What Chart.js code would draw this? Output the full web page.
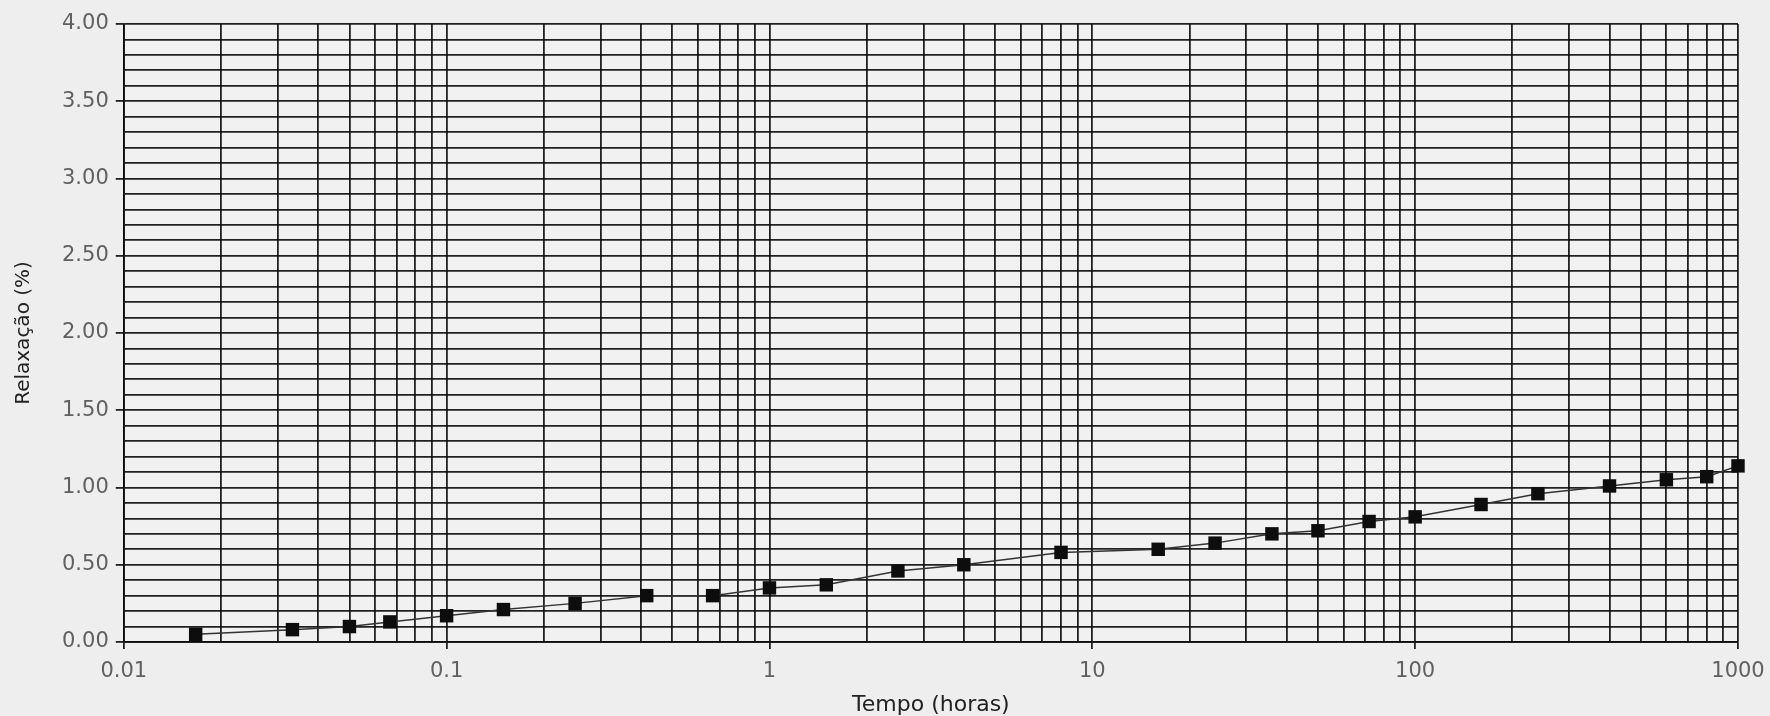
<!DOCTYPE html>
<html>
<head>
<meta charset="utf-8">
<title>Relaxação x Tempo</title>
<script src="https://cdn.jsdelivr.net/npm/chart.js@4.4.1/dist/chart.umd.min.js"></script>
<style>
  html, body { margin: 0; padding: 0; background: #eeeeee; }
  #wrap { width: 1770px; height: 716px; }
</style>
</head>
<body>
<div id="wrap"><canvas id="chart"></canvas></div>
<script>
// tempo das leituras (horas) e relaxação medida (%)
const tempoHoras = [0.0167, 0.0333, 0.05, 0.0667, 0.1, 0.15, 0.25, 0.4167, 0.6667,
  1, 1.5, 2.5, 4, 8, 16, 24, 36, 50, 72, 100, 160, 240, 400, 600, 800, 1000];
const relaxacao = [0.05, 0.08, 0.10, 0.13, 0.17, 0.21, 0.25, 0.30, 0.30,
  0.35, 0.37, 0.46, 0.50, 0.58, 0.60, 0.64, 0.70, 0.72, 0.78, 0.81, 0.89, 0.96, 1.01, 1.05, 1.07, 1.14];

const xDecadas = [0.01, 0.1, 1, 10, 100, 1000];
const xRotulos = ["0.01", "0.1", "1", "10", "100", "1000"];
const yRotulos = [0, 0.5, 1, 1.5, 2, 2.5, 3, 3.5, 4];

const corGrade = "rgba(10,10,10,0.9)";

function ehDecada(v) {
  return xDecadas.findIndex(d => Math.abs(v / d - 1) < 1e-6);
}
function ehRotuloY(v) {
  return yRotulos.findIndex(r => Math.abs(v - r) < 1e-6);
}

const fundoPlot = {
  id: "fundoPlot",
  beforeDraw(chart) {
    const { ctx, chartArea: a } = chart;
    ctx.save();
    ctx.fillStyle = "#f1f1f1";
    ctx.fillRect(a.left, a.top, a.right - a.left, a.bottom - a.top);
    ctx.restore();
  }
};

const ctx = document.getElementById("chart").getContext("2d");

new Chart(ctx, {
  type: "line",
  data: {
    datasets: [{
      label: "Relaxação",
      data: tempoHoras.map((t, i) => ({ x: t, y: relaxacao[i] })),
      borderColor: "#333",
      borderWidth: 1.5,
      backgroundColor: "#0d0d0d",
      pointStyle: "rect",
      pointRadius: 9.5,
      pointHoverRadius: 9.5,
      pointBorderWidth: 0,
      tension: 0,
      clip: false
    }]
  },
  options: {
    responsive: true,
    maintainAspectRatio: false,
    animation: false,
    layout: { padding: { top: 24, right: 32, bottom: 0, left: 0 } },
    plugins: {
      legend: { display: false },
      tooltip: { enabled: false }
    },
    scales: {
      x: {
        type: "logarithmic",
        min: 0.01,
        max: 1000,
        afterBuildTicks(scale) {
          const t = [];
          xDecadas.forEach((d, i) => {
            if (i === xDecadas.length - 1) { t.push({ value: d }); return; }
            for (let m = 1; m <= 9; m++) t.push({ value: d * m });
          });
          scale.ticks = t;
        },
        // o rótulo "1000" cabe na margem direita; não reservar espaço extra
        afterFit(scale) {
          scale.paddingRight = 0;
        },
        ticks: {
          autoSkip: false,
          maxRotation: 0,
          padding: 12,
          color: "#606060",
          font: { family: "DejaVu Sans", size: 21, lineHeight: 1 },
          callback(v) {
            const i = ehDecada(v);
            return i >= 0 ? xRotulos[i] : "";
          }
        },
        grid: {
          color: corGrade,
          lineWidth: 1.8,
          tickLength: 7,
          tickColor(c) {
            return c.tick && ehDecada(c.tick.value) >= 0 ? corGrade : "rgba(0,0,0,0)";
          }
        },
        border: { color: corGrade, width: 1.8 },
        title: {
          display: true,
          text: "Tempo (horas)",
          color: "#222",
          font: { family: "DejaVu Sans", size: 22, lineHeight: 1 },
          padding: { top: 0, bottom: 0 }
        }
      },
      y: {
        type: "linear",
        min: 0,
        max: 4,
        afterBuildTicks(scale) {
          const t = [];
          for (let i = 0; i <= 40; i++) t.push({ value: i / 10 });
          scale.ticks = t;
        },
        ticks: {
          autoSkip: false,
          padding: 7,
          color: "#606060",
          font: { family: "DejaVu Sans", size: 21 },
          callback(v) {
            return ehRotuloY(v) >= 0 ? v.toFixed(2) : "";
          }
        },
        grid: {
          color: corGrade,
          lineWidth: 1.8,
          tickLength: 8,
          tickColor(c) {
            return c.tick && ehRotuloY(c.tick.value) >= 0 ? corGrade : "rgba(0,0,0,0)";
          }
        },
        border: { color: corGrade, width: 1.8 },
        title: {
          display: true,
          text: "Relaxação (%)",
          color: "#222",
          font: { family: "DejaVu Sans", size: 20 },
          padding: { top: 12, bottom: 19 }
        }
      }
    }
  },
  plugins: [fundoPlot]
});
</script>
</body>
</html>
